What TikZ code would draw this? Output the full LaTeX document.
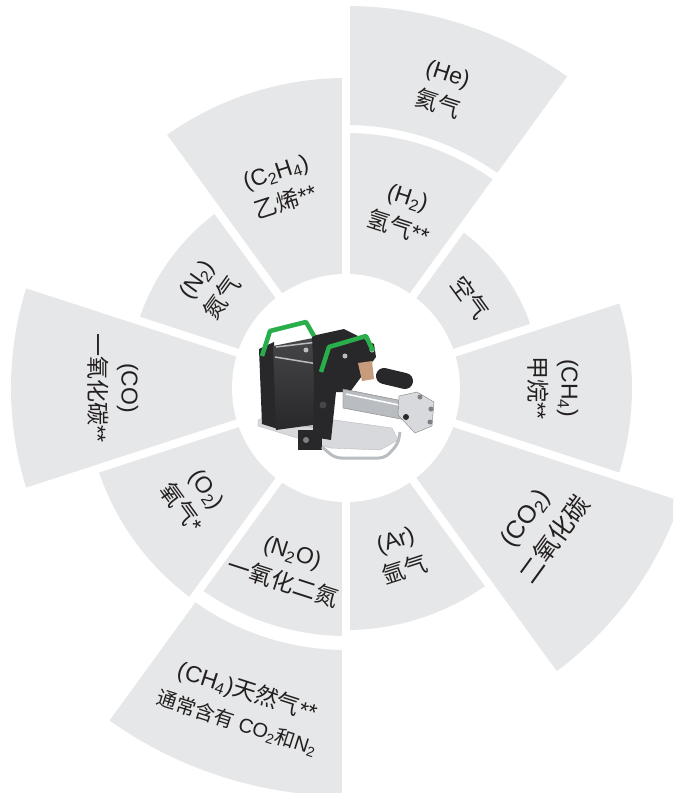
\documentclass[tikz,border=0pt]{standalone}
\usepackage{fontspec}
\setmainfont{Liberation Sans}
\newfontfamily\cjk{Noto Sans CJK SC}
\newcommand{\zh}[1]{{\cjk #1}}
\definecolor{sectorgray}{RGB}{230,231,232}
\definecolor{labelgray}{RGB}{35,31,32}
\definecolor{pumpblack}{RGB}{40,40,42}
\definecolor{drumgray}{RGB}{70,70,72}
\definecolor{pumpsilver}{RGB}{185,188,192}
\definecolor{pumplight}{RGB}{215,217,220}
\definecolor{handlegreen}{RGB}{40,175,75}
\definecolor{fittingbrown}{RGB}{200,155,125}
\newcommand{\gassector}[4]{\fill[sectorgray] (#1:#3) arc[start angle=#1, end angle=#2, radius=#3] -- (#2:#4) arc[start angle=#2, end angle=#1, radius=#4] -- cycle;}
\begin{document}
\begin{tikzpicture}[x=1pt, y=1pt,
  gapline/.style={white, line width=8pt},
  gaslabel/.style={align=center, text=labelgray, inner sep=0pt, font=\fontsize{23}{32}\selectfont},
  biglabel/.style={font=\fontsize{25}{37}\selectfont},
  handle/.style={handlegreen, line width=4.5, line join=round}]
\useasboundingbox (-346,-405) rectangle (327,388);
\clip (-346,-405) rectangle (327,388);
% sectors
\gassector{-18}{18}{100}{286}
\gassector{18}{54}{100}{195}
\gassector{54}{90}{100}{255}
\gassector{54}{90}{263}{382}
\gassector{90}{126}{100}{310}
\gassector{126}{162}{100}{218}
\gassector{162}{198}{100}{335}
\gassector{198}{234}{100}{261}
\gassector{234}{270}{100}{248}
\gassector{234}{270}{262}{408}
\gassector{270}{306}{100}{242}
\gassector{306}{342}{100}{353}
\foreach \a in {18,54,...,342}
  \draw[gapline] (0,0) -- (\a:430);
\fill[white] (0,0) circle[radius=114];
% pump
\begin{scope}[shift={(-346,388)}, yscale=-1]
\filldraw[fill=pumplight, draw=pumpsilver] (258,420) -- (277,412) -- (392,428) -- (398,440) -- (380,450) -- (330,448) -- (258,426) -- cycle;
\draw[pumpsilver, line width=2] (276,414) -- (318,421) (276,420) -- (318,428);
\fill[pumpblack] (259,349) -- (274,342) -- (278,429) -- (262,424) -- cycle;
\shade[top color=drumgray, bottom color=pumpblack] (273,346) -- (318,337) -- (320,424) -- (276,430) -- cycle;
\draw[pumpsilver, line width=1.5] (276,347) -- (318,342) (275,357) -- (318,364);
\fill[pumpblack] (312,336) -- (344,329) -- (374,344) -- (376,357) -- (350,392) -- (336,392) -- (331,440) -- (313,437) -- (314,380) -- cycle;
\fill[drumgray] (323,405) circle[radius=3.5];
\filldraw[fill=pumpsilver, draw=gray] (343,389) -- (408,402) -- (406,420) -- (343,408) -- cycle;
\draw[white, line width=1.5] (346,394) -- (404,406);
\filldraw[fill=pumplight, draw=gray] (399,396) -- (417,392) -- (434,402) -- (432,426) -- (415,433) -- (398,415) -- cycle;
\fill[pumpblack] (406,417) circle[radius=3];
\foreach \bx/\by in {420/397, 431/409, 430/422}
  \fill[gray] (\bx,\by) circle[radius=2.5];
\draw[pumpblack, line width=16, line cap=round] (384,376) -- (405,381);
\fill[fittingbrown] (358,363) -- (372,361) -- (374,379) -- (362,381) -- cycle;
\fill[pumpblack] (298,430) rectangle (322,450);
\fill[gray] (306,440) circle[radius=3];
\draw[pumpsilver, line width=3, rounded corners=6] (322,447) -- (335,458) -- (385,458) -- (398,444) -- (400,432);
\foreach \bx/\by in {306/350, 345/356, 372/350}
  \fill[pumpsilver] (\bx,\by) circle[radius=2.5];
\draw[handle] (262,356) -- (270,331) -- (306,322) -- (314,336);
\draw[handle] (321,372) -- (329,347) -- (366,336) -- (373,351);
\end{scope}
% labels
\node[gaslabel, rotate=-18] (he) at (72:314) {(He)\\\zh{氦气}};
\node[gaslabel, rotate=-18] (htwo) at (72:184) {(H\textsubscript{2})\\\zh{氢气}**};
\node[gaslabel, rotate=18] (ethylene) at (108:211) {(C\textsubscript{2}H\textsubscript{4})\\\zh{乙烯}**};
\node[gaslabel, rotate=54] (ntwo) at (144:168) {(N\textsubscript{2})\\\zh{氮气}};
\node[gaslabel, rotate=-54] (air) at (36:154) {\zh{空气}};
\node[gaslabel, rotate=-90] (methane) at (0:207) {(CH\textsubscript{4})\\\zh{甲烷}**};
\node[gaslabel, biglabel, rotate=54] (cotwo) at (-36:240) {(CO\textsubscript{2})\\\zh{二氧化碳}};
\node[gaslabel, rotate=18] (argon) at (-72:176) {(Ar)\\\zh{氩气}};
\node[gaslabel, rotate=-18] (ntwoo) at (-108:189) {(N\textsubscript{2}O)\\\zh{一氧化二氮}};
\node[gaslabel, rotate=-18] (natgas) at (-108:335) {(CH\textsubscript{4})\zh{天然气}**\\{\fontsize{20}{24}\selectfont\zh{通常含有} CO\textsubscript{2}\zh{和}N\textsubscript{2}}};
\node[gaslabel, rotate=-54] (otwo) at (-144:188) {(O\textsubscript{2})\\\zh{氧气}*};
\node[gaslabel, rotate=-90] (co) at (180:233) {(CO)\\\zh{一氧化碳}**};
\end{tikzpicture}
\end{document}
